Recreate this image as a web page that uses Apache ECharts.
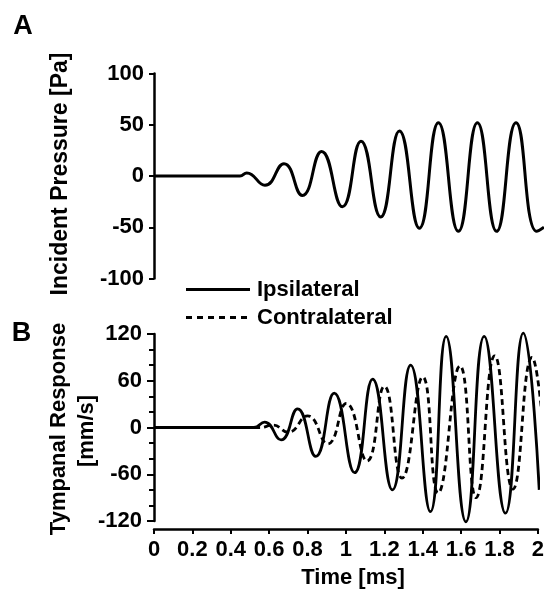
<!DOCTYPE html>
<html><head><meta charset="utf-8">
<script src="https://cdn.jsdelivr.net/npm/echarts/dist/echarts.min.js"></script>
<style>html,body{margin:0;padding:0;background:#fff}#c{width:547px;height:597px}</style>
</head><body><div id="c"></div>
<script>
// Panel A: incident pressure (Pa) vs time (ms)
const timeA = [0, 0.2, 0.4, 0.443, 0.478, 0.572, 0.670, 0.765, 0.864, 0.971, 1.067, 1.168, 1.265, 1.368, 1.466, 1.569, 1.667, 1.766, 1.866, 1.973, 2.01];
const pressure = [0, 0, 0, 0, 3, -9, 12, -19, 24, -30, 34, -40, 44, -51, 52, -54, 52, -54, 52, -54, -50];
// Panel B: tympanal response (mm/s)
const timeIpsi = [0, 0.2, 0.4, 0.52, 0.576, 0.662, 0.748, 0.843, 0.939, 1.045, 1.139, 1.242, 1.337, 1.44, 1.522, 1.625, 1.72, 1.831, 1.924, 2.007];
const ipsilateral = [0, 0, 0, 0, 7, -16, 24, -37, 44, -58, 62, -80, 80, -108, 117, -121, 117, -110, 121, -80];
const timeContra = [0, 0.2, 0.4, 0.55, 0.62, 0.7, 0.8, 0.905, 1.002, 1.11, 1.2, 1.292, 1.4, 1.48, 1.594, 1.678, 1.775, 1.87, 1.97, 2.02];
const contralateral = [0, 0, 0, 0, 3, -6, 15, -21, 31, -43, 53, -65, 65, -84, 79, -90, 92, -79, 90, 20];
// Axis ticks and legend
const xTickLabels = ['0', '0.2', '0.4', '0.6', '0.8', '1', '1.2', '1.4', '1.6', '1.8', '2'];
const yTicksA = [-100, -50, 0, 50, 100];
const yTicksB = [-120, -60, 0, 60, 120];
const legendNames = ['Ipsilateral', 'Contralateral'];

const FONT = '"Liberation Sans", Arial, Helvetica, sans-serif';
const zip = (a, b) => a.map((t, i) => [t, b[i]]);
const lab = {fontFamily: FONT, fontWeight: 'bold', fontSize: 22, color: '#000'};
const axLine = {show: true, onZero: false, lineStyle: {color: '#000', width: 2.5}};
const txt = (text, x, y, size, extra) => Object.assign({type: 'text', x: x, y: y,
  style: {text: text, font: 'bold ' + size + 'px ' + FONT, fill: '#000', textAlign: 'center', textVerticalAlign: 'middle'}}, extra || {});

const chart = echarts.init(document.getElementById('c'));
chart.setOption({
  animation: false,
  backgroundColor: '#fff',
  grid: [
    {left: 154, right: 5, top: 73.5, height: 205},
    {left: 154, right: 5, top: 334, height: 187}
  ],
  xAxis: [
    {gridIndex: 0, type: 'value', min: 0, max: 2, interval: 0.2, show: false},
    {gridIndex: 1, type: 'value', min: 0, max: 2, interval: 0.2, offset: 8,
     axisLine: axLine, splitLine: {show: false},
     axisTick: {show: true, length: 5, lineStyle: {color: '#000', width: 2}},
     axisLabel: Object.assign({margin: 10, formatter: v => xTickLabels[Math.round(v / 0.2)]}, lab)}
  ],
  yAxis: [
    {gridIndex: 0, type: 'value', min: yTicksA[0], max: yTicksA[yTicksA.length - 1], interval: 50,
     axisLine: axLine, splitLine: {show: false},
     axisTick: {show: true, length: 5, lineStyle: {color: '#000', width: 2}},
     axisLabel: Object.assign({margin: 10}, lab)},
    {gridIndex: 1, type: 'value', min: yTicksB[0], max: yTicksB[yTicksB.length - 1], interval: 60,
     axisLine: axLine, splitLine: {show: false},
     axisTick: {show: true, length: 7, lineStyle: {color: '#000', width: 2}},
     minorTick: {show: true, splitNumber: 3, length: 5, lineStyle: {color: '#000', width: 2}},
     axisLabel: Object.assign({margin: 12}, lab)}
  ],
  series: [
    {type: 'line', name: 'Pressure', xAxisIndex: 0, yAxisIndex: 0, data: zip(timeA, pressure),
     smooth: 0.5, symbol: 'none', clip: false, lineStyle: {color: '#000', width: 3}},
    {type: 'line', name: legendNames[0], xAxisIndex: 1, yAxisIndex: 1, data: zip(timeIpsi, ipsilateral),
     smooth: 0.5, symbol: 'none', clip: false, lineStyle: {color: '#000', width: 2.8}},
    {type: 'line', name: legendNames[1], xAxisIndex: 1, yAxisIndex: 1, data: zip(timeContra, contralateral),
     smooth: 0.5, symbol: 'none', clip: false, lineStyle: {color: '#000', width: 2.8, type: [6, 4]}}
  ],
  graphic: [
    txt('A', 23, 27, 27),
    txt('B', 21.5, 334, 27),
    txt('Incident Pressure [Pa]', 61, 174, 23, {rotation: Math.PI / 2}),
    txt('Tympanal Response', 59, 429, 22, {rotation: Math.PI / 2}),
    txt('[mm/s]', 87, 431, 22, {rotation: Math.PI / 2}),
    txt('Time [ms]', 353, 578, 22),
    // legend
    {type: 'line', shape: {x1: 186, y1: 289.5, x2: 250, y2: 289.5}, style: {stroke: '#000', lineWidth: 2.8}},
    {type: 'line', shape: {x1: 186, y1: 317.5, x2: 250, y2: 317.5}, style: {stroke: '#000', lineWidth: 2.8, lineDash: [6, 5]}},
    txt(legendNames[0], 257, 289.5, 22, {style: {text: legendNames[0], font: 'bold 22px ' + FONT, fill: '#000', textAlign: 'left', textVerticalAlign: 'middle'}}),
    txt(legendNames[1], 257, 317.5, 22, {style: {text: legendNames[1], font: 'bold 22px ' + FONT, fill: '#000', textAlign: 'left', textVerticalAlign: 'middle'}})
  ]
});
</script>
</body></html>
